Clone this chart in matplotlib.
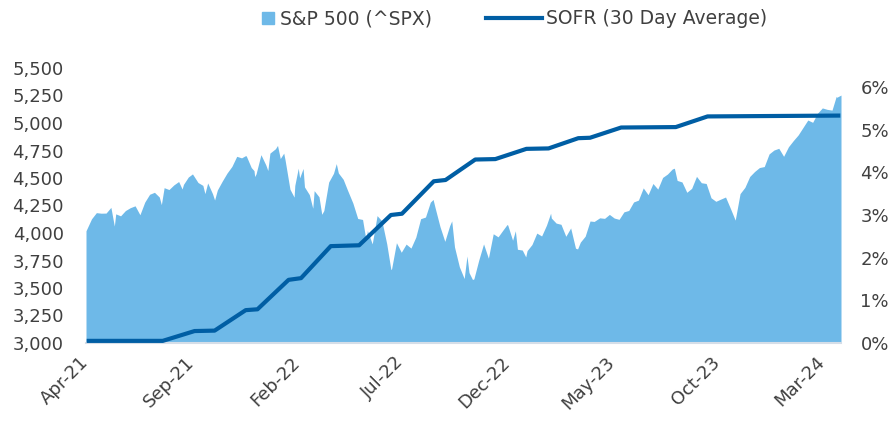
import numpy as np
import matplotlib
matplotlib.use("Agg")
import matplotlib.pyplot as plt
import matplotlib.dates as mdates
from matplotlib.ticker import FuncFormatter, FixedLocator
from matplotlib.lines import Line2D

# ---------------- data ----------------
spx_dates = [
    "2021-04-01", "2021-04-09", "2021-04-16", "2021-04-23", "2021-04-30", "2021-05-07", "2021-05-12",
    "2021-05-14", "2021-05-21", "2021-05-28", "2021-06-04", "2021-06-11", "2021-06-18", "2021-06-25",
    "2021-07-02", "2021-07-09", "2021-07-16", "2021-07-19", "2021-07-23", "2021-07-30", "2021-08-06",
    "2021-08-13", "2021-08-18", "2021-08-20", "2021-08-27", "2021-09-02", "2021-09-10", "2021-09-17",
    "2021-09-20", "2021-09-24", "2021-10-01", "2021-10-04", "2021-10-08", "2021-10-15", "2021-10-22",
    "2021-10-29", "2021-11-05", "2021-11-12", "2021-11-18", "2021-11-19", "2021-11-26", "2021-11-30",
    "2021-12-01", "2021-12-03", "2021-12-10", "2021-12-17", "2021-12-20", "2021-12-23", "2021-12-31",
    "2022-01-03", "2022-01-07", "2022-01-12", "2022-01-14", "2022-01-21", "2022-01-27", "2022-01-28",
    "2022-02-02", "2022-02-04", "2022-02-09", "2022-02-11", "2022-02-18", "2022-02-23", "2022-02-25",
    "2022-03-04", "2022-03-08", "2022-03-11", "2022-03-18", "2022-03-25", "2022-03-29", "2022-04-01",
    "2022-04-08", "2022-04-14", "2022-04-22", "2022-04-29", "2022-05-06", "2022-05-11", "2022-05-13",
    "2022-05-20", "2022-05-27", "2022-06-03", "2022-06-10", "2022-06-16", "2022-06-17", "2022-06-24",
    "2022-07-01", "2022-07-08", "2022-07-15", "2022-07-22", "2022-07-29", "2022-08-05", "2022-08-12",
    "2022-08-16", "2022-08-19", "2022-08-26", "2022-09-02", "2022-09-09", "2022-09-12", "2022-09-16",
    "2022-09-23", "2022-09-30", "2022-10-04", "2022-10-07", "2022-10-12", "2022-10-14", "2022-10-21",
    "2022-10-28", "2022-11-04", "2022-11-11", "2022-11-18", "2022-11-25", "2022-12-01", "2022-12-02",
    "2022-12-09", "2022-12-13", "2022-12-16", "2022-12-23", "2022-12-28", "2022-12-30",
    "2023-01-06", "2023-01-13", "2023-01-20", "2023-01-27", "2023-02-02", "2023-02-03", "2023-02-10",
    "2023-02-17", "2023-02-24", "2023-03-03", "2023-03-10", "2023-03-13", "2023-03-17", "2023-03-24",
    "2023-03-31", "2023-04-06", "2023-04-14", "2023-04-21", "2023-04-28", "2023-05-05", "2023-05-12",
    "2023-05-19", "2023-05-26", "2023-06-02", "2023-06-09", "2023-06-16", "2023-06-23", "2023-06-30",
    "2023-07-07", "2023-07-14", "2023-07-21", "2023-07-28", "2023-07-31", "2023-08-04", "2023-08-11",
    "2023-08-18", "2023-08-25", "2023-09-01", "2023-09-08", "2023-09-15", "2023-09-22", "2023-09-29",
    "2023-10-06", "2023-10-13", "2023-10-20", "2023-10-27", "2023-11-03", "2023-11-10", "2023-11-17",
    "2023-11-24", "2023-12-01", "2023-12-08", "2023-12-15", "2023-12-22", "2023-12-29",
    "2024-01-05", "2024-01-12", "2024-01-19", "2024-01-26", "2024-02-02", "2024-02-09", "2024-02-16",
    "2024-02-23", "2024-03-01", "2024-03-08", "2024-03-15", "2024-03-21", "2024-03-22", "2024-03-28",
]
spx_values = [
    4020, 4129, 4185, 4180, 4181, 4233, 4063,
    4174, 4156, 4204, 4230, 4247, 4166, 4281,
    4352, 4370, 4327, 4258, 4412, 4395, 4437,
    4468, 4400, 4442, 4509, 4537, 4459, 4433,
    4358, 4455, 4357, 4300, 4391, 4471, 4545,
    4605, 4697, 4683, 4704, 4698, 4595, 4567,
    4513, 4538, 4712, 4620, 4568, 4726, 4766,
    4796, 4677, 4726, 4662, 4398, 4326, 4432,
    4589, 4501, 4587, 4419, 4349, 4225, 4385,
    4329, 4170, 4204, 4463, 4543, 4631, 4546,
    4488, 4393, 4272, 4132, 4123, 3935, 4023,
    3901, 4158, 4109, 3901, 3667, 3675, 3912,
    3825, 3899, 3863, 3962, 4130, 4145, 4280,
    4305, 4228, 4058, 3924, 4067, 4110, 3873,
    3693, 3586, 3791, 3640, 3577, 3583, 3752,
    3901, 3771, 3993, 3965, 4026, 4077, 4072,
    3934, 4020, 3852, 3845, 3783, 3840,
    3895, 3999, 3973, 4071, 4180, 4136, 4090,
    4079, 3970, 4046, 3862, 3855, 3917, 3971,
    4109, 4105, 4138, 4133, 4169, 4136, 4124,
    4192, 4205, 4282, 4299, 4410, 4348, 4450,
    4399, 4505, 4536, 4582, 4589, 4478, 4464,
    4370, 4406, 4515, 4457, 4450, 4320, 4288,
    4308, 4327, 4224, 4117, 4358, 4415, 4514,
    4559, 4595, 4604, 4719, 4754, 4770,
    4697, 4784, 4840, 4891, 4959, 5027, 5006,
    5089, 5137, 5124, 5117, 5241, 5234, 5254,
]

sofr_dates = [
    "2021-04-02", "2021-07-21", "2021-09-05", "2021-10-04", "2021-11-18", "2021-12-05",
    "2022-01-19", "2022-02-06", "2022-03-21", "2022-05-01", "2022-06-16", "2022-07-02",
    "2022-08-17", "2022-09-03", "2022-10-16", "2022-11-14", "2022-12-29", "2023-01-30",
    "2023-03-14", "2023-03-31", "2023-05-15", "2023-08-02", "2023-09-17", "2024-03-27",
]
sofr_values = [
    0.05, 0.05, 0.28, 0.29, 0.77, 0.79,
    1.48, 1.52, 2.27, 2.29, 3.00, 3.03,
    3.79, 3.82, 4.30, 4.31, 4.55, 4.56,
    4.80, 4.81, 5.05, 5.06, 5.31, 5.33,
]

x_tick_dates = ["2021-04-01", "2021-09-01", "2022-02-01", "2022-07-01",
                "2022-12-01", "2023-05-01", "2023-10-01", "2024-03-01"]
x_tick_labels = ["Apr-21", "Sep-21", "Feb-22", "Jul-22", "Dec-22", "May-23", "Oct-23", "Mar-24"]
left_ticks = [3000, 3250, 3500, 3750, 4000, 4250, 4500, 4750, 5000, 5250, 5500]
right_ticks = [0, 1, 2, 3, 4, 5, 6]

# ---------------- style ----------------
AREA = "#6EB9E8"
LINE = "#005EA4"
TXT = "#404040"

plt.rcParams["font.family"] = ["DejaVu Sans"]

fig = plt.figure(figsize=(8.89, 4.26), dpi=100)
ax = fig.add_axes([86 / 889, 1 - 343 / 426, (841 - 86) / 889, (343 - 68) / 426])
ax2 = ax.twinx()

sd = np.array(spx_dates, dtype="datetime64[D]")
ax.fill_between(sd, 3000, spx_values, color=AREA, linewidth=0, zorder=1)

od = np.array(sofr_dates, dtype="datetime64[D]")
ax2.plot(od, sofr_values, color=LINE, lw=3.0, solid_capstyle="butt", solid_joinstyle="round")

ax.set_xlim(np.datetime64("2021-04-01"), np.datetime64("2024-03-28"))
ax.set_ylim(3000, 5500)
ax2.set_ylim(0, 275 / 42.67)

ax.yaxis.set_major_locator(FixedLocator(left_ticks))
ax.yaxis.set_major_formatter(FuncFormatter(lambda v, p: f"{int(v):,}"))
ax2.yaxis.set_major_locator(FixedLocator(right_ticks))
ax2.yaxis.set_major_formatter(FuncFormatter(lambda v, p: f"{int(round(v))}%"))

xt = mdates.date2num(np.array(x_tick_dates, dtype="datetime64[D]"))
ax.set_xticks(xt)
ax.set_xticklabels(x_tick_labels, rotation=45, ha="right", va="center", rotation_mode="anchor")

for a in (ax, ax2):
    for s in a.spines.values():
        s.set_visible(False)
ax.spines["bottom"].set_visible(True)
ax.spines["bottom"].set_color("#D5DEE8")
ax.spines["bottom"].set_linewidth(1.5)

ax.tick_params(axis="y", length=0, pad=16, labelsize=13, labelcolor=TXT)
ax.tick_params(axis="x", length=0, pad=12, labelsize=13, labelcolor=TXT)
ax2.tick_params(axis="y", length=0, pad=14, labelsize=13, labelcolor=TXT)
ax.set_facecolor("none")

# legends
h1 = Line2D([], [], marker="s", color=AREA, linestyle="none", markersize=9)
h2 = Line2D([], [], color=LINE, lw=3.0)
leg1 = fig.legend([h1], ["S&P 500 (^SPX)"], loc="center left",
                  bbox_to_anchor=(260 / 889, 1 - 19 / 426), frameon=False,
                  handlelength=0.8, handletextpad=0.25, fontsize=13.5,
                  labelcolor=TXT, borderaxespad=0, borderpad=0)
leg2 = fig.legend([h2], ["SOFR (30 Day Average)"], loc="center left",
                  bbox_to_anchor=(486 / 889, 1 - 19 / 426), frameon=False,
                  handlelength=3.0, handletextpad=0.2, fontsize=13.5,
                  labelcolor=TXT, borderaxespad=0, borderpad=0)

fig.savefig("out.png", dpi=100)
